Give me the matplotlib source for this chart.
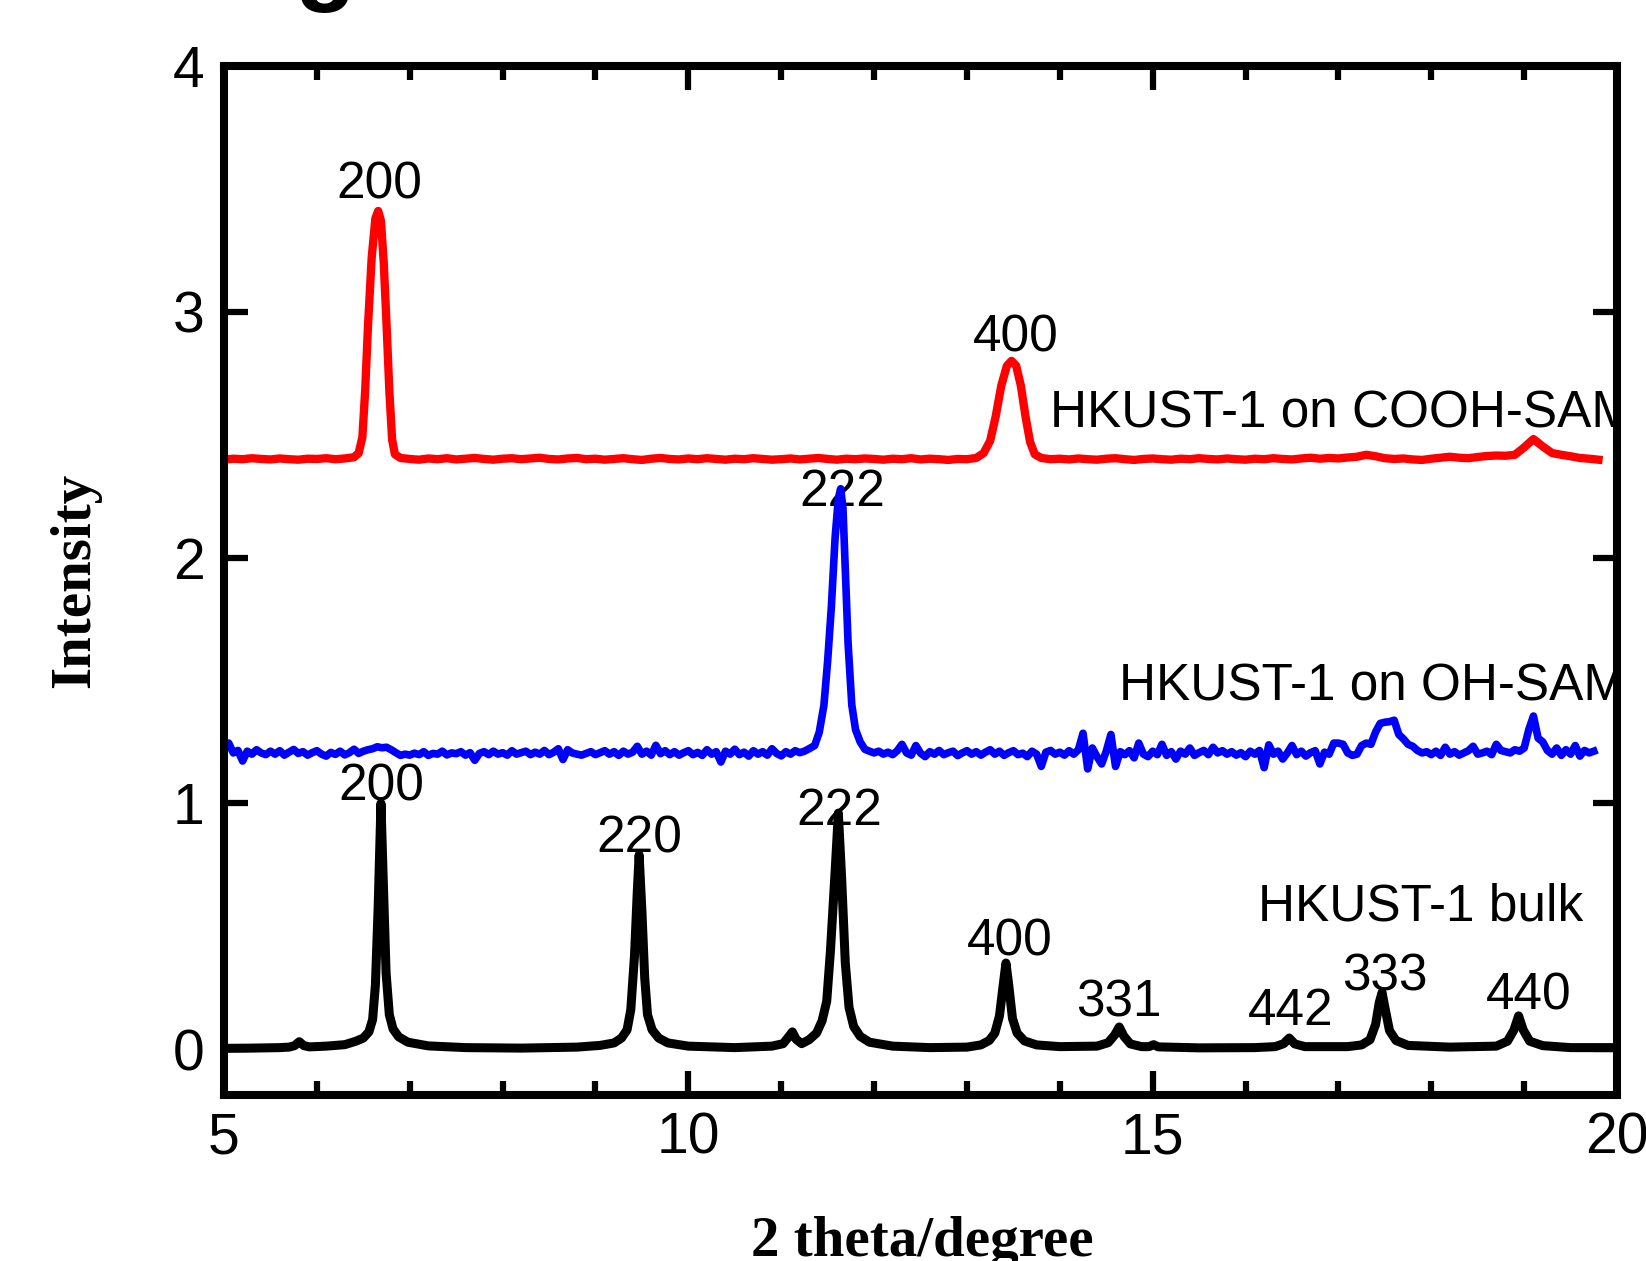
"""XRD patterns of HKUST-1: bulk powder vs. films grown on OH- and COOH-terminated SAMs."""

import numpy as np
import matplotlib
matplotlib.use("Agg")
import matplotlib.pyplot as plt
from matplotlib.ticker import MultipleLocator

plt.rcParams['font.family'] = ['Liberation Sans', 'DejaVu Sans']

# --- HKUST-1 bulk (black) ---
BULK_X = [5.00, 5.30, 5.60, 5.70, 5.76, 5.81, 5.86, 5.92, 6.10, 6.30,
          6.42, 6.50, 6.56, 6.60, 6.63, 6.66, 6.69, 6.72, 6.745, 6.78,
          6.82, 6.88, 6.98, 7.20, 7.60, 8.20, 8.80, 9.05, 9.20, 9.28,
          9.34, 9.38, 9.42, 9.45, 9.47, 9.50, 9.53, 9.56, 9.61, 9.68,
          9.78, 10.00, 10.50, 10.90, 11.02, 11.08, 11.12, 11.16, 11.22, 11.30,
          11.38, 11.44, 11.49, 11.53, 11.58, 11.615, 11.65, 11.69, 11.73, 11.78,
          11.85, 11.95, 12.20, 12.60, 13.00, 13.15, 13.24, 13.30, 13.35, 13.39,
          13.42, 13.45, 13.49, 13.54, 13.62, 13.75, 14.00, 14.40, 14.52, 14.59,
          14.64, 14.69, 14.76, 14.88, 14.96, 15.01, 15.06, 15.50, 16.10, 16.32,
          16.41, 16.47, 16.53, 16.64, 17.10, 17.25, 17.34, 17.40, 17.44, 17.47,
          17.50, 17.55, 17.62, 17.75, 18.20, 18.70, 18.82, 18.89, 18.94, 18.99,
          19.06, 19.20, 19.50, 19.97]
BULK_Y = [0.003, 0.004, 0.006, 0.008, 0.014, 0.030, 0.014, 0.009, 0.012, 0.018,
          0.032, 0.045, 0.070, 0.120, 0.260, 0.580, 1.000, 0.620, 0.310, 0.140,
          0.082, 0.050, 0.028, 0.013, 0.006, 0.004, 0.008, 0.015, 0.025, 0.045,
          0.078, 0.160, 0.380, 0.640, 0.790, 0.560, 0.290, 0.140, 0.078, 0.045,
          0.025, 0.012, 0.006, 0.012, 0.022, 0.050, 0.070, 0.040, 0.022, 0.038,
          0.065, 0.115, 0.195, 0.400, 0.720, 0.960, 0.700, 0.350, 0.170, 0.092,
          0.052, 0.028, 0.012, 0.006, 0.008, 0.017, 0.035, 0.065, 0.135, 0.260,
          0.350, 0.260, 0.125, 0.065, 0.033, 0.017, 0.010, 0.012, 0.026, 0.057,
          0.090, 0.052, 0.021, 0.010, 0.010, 0.018, 0.009, 0.005, 0.006, 0.010,
          0.022, 0.045, 0.021, 0.010, 0.010, 0.017, 0.038, 0.100, 0.190, 0.230,
          0.170, 0.075, 0.035, 0.015, 0.008, 0.012, 0.032, 0.078, 0.135, 0.078,
          0.032, 0.014, 0.006, 0.006]

# --- HKUST-1 on COOH-SAM (red): baseline pieces on a 0.1 deg scan grid + peaks ---
RED_STEP = 0.1
RED_A_START = 5.0
RED_A_Y = [2.398, 2.402, 2.400, 2.404, 2.401, 2.399, 2.403, 2.400, 2.398, 2.402,
           2.401, 2.404, 2.400, 2.403]
RED_200_X = [6.40, 6.45, 6.49, 6.52, 6.55, 6.59, 6.63, 6.66, 6.69, 6.72,
             6.75, 6.78, 6.81, 6.84, 6.90]
RED_200_Y = [2.408, 2.425, 2.49, 2.68, 2.94, 3.22, 3.38, 3.41, 3.37, 3.20,
             2.95, 2.68, 2.48, 2.42, 2.405]
RED_B_START = 7.0
RED_B_Y = [2.401, 2.398, 2.403, 2.400, 2.404, 2.399, 2.402, 2.405, 2.401, 2.398,
           2.402, 2.404, 2.400, 2.403, 2.406, 2.401, 2.399, 2.403, 2.405, 2.400,
           2.402, 2.398, 2.401, 2.404, 2.400, 2.397, 2.402, 2.405, 2.401, 2.399,
           2.403, 2.400, 2.404, 2.401, 2.398, 2.402, 2.400, 2.404, 2.401, 2.398,
           2.400, 2.403, 2.399, 2.402, 2.405, 2.401, 2.398, 2.402, 2.400, 2.403,
           2.401, 2.398, 2.402, 2.400, 2.404, 2.399, 2.402, 2.400, 2.397, 2.401,
           2.400]
RED_400_X = [13.10, 13.18, 13.25, 13.31, 13.37, 13.43, 13.48, 13.53, 13.58, 13.63,
             13.68, 13.73, 13.80]
RED_400_Y = [2.405, 2.425, 2.475, 2.575, 2.70, 2.78, 2.80, 2.78, 2.70, 2.575,
             2.47, 2.42, 2.405]
RED_C_START = 13.9
RED_C_Y = [2.400,
           2.402, 2.399, 2.403, 2.400, 2.398, 2.402, 2.404, 2.400, 2.397, 2.401,
           2.403, 2.400, 2.398, 2.402, 2.400, 2.404, 2.401, 2.399, 2.403, 2.400,
           2.398, 2.402, 2.400, 2.404, 2.401, 2.399, 2.403, 2.406, 2.402, 2.405,
           2.403, 2.407, 2.410, 2.418, 2.412, 2.404, 2.401, 2.403, 2.399, 2.397,
           2.402, 2.406, 2.410, 2.406, 2.404, 2.409, 2.413, 2.415, 2.414, 2.418,
           2.448, 2.482, 2.452, 2.425, 2.418, 2.412, 2.405, 2.402, 2.398]

# --- HKUST-1 on OH-SAM (blue): noisy baseline on a 0.05 deg scan grid + 222 peak ---
BLUE_STEP = 0.05
BLUE_A_START = 5.0
BLUE_A_Y = [1.215, 1.245, 1.205, 1.215, 1.172, 1.212, 1.200, 1.218, 1.205, 1.198,
            1.212, 1.200, 1.214, 1.196, 1.208, 1.219, 1.203, 1.210, 1.196, 1.206,
            1.214, 1.200, 1.192, 1.207, 1.199, 1.212, 1.197, 1.206, 1.220, 1.203,
            1.212, 1.218, 1.222, 1.230, 1.226, 1.228, 1.218, 1.206, 1.195, 1.200,
            1.196, 1.204, 1.198, 1.210, 1.195, 1.203, 1.200, 1.212, 1.197, 1.205,
            1.202, 1.210, 1.196, 1.206, 1.175, 1.203, 1.210, 1.198, 1.212, 1.200,
            1.206, 1.196, 1.214, 1.200, 1.206, 1.212, 1.198, 1.208, 1.200, 1.215,
            1.198, 1.208, 1.222, 1.178, 1.218, 1.205, 1.200, 1.196, 1.203, 1.210,
            1.198, 1.206, 1.214, 1.200, 1.210, 1.195, 1.212, 1.200, 1.208, 1.232,
            1.200, 1.212, 1.196, 1.236, 1.202, 1.214, 1.198, 1.210, 1.196, 1.206,
            1.214, 1.198, 1.207, 1.195, 1.218, 1.200, 1.210, 1.168, 1.212, 1.200,
            1.220, 1.198, 1.208, 1.192, 1.214, 1.200, 1.210, 1.196, 1.222, 1.203,
            1.193, 1.210, 1.200, 1.214, 1.206, 1.212, 1.222]
BLUE_222_X = [11.36, 11.41, 11.46, 11.50, 11.54, 11.58, 11.615, 11.64, 11.665, 11.69,
              11.72, 11.76, 11.80, 11.85, 11.90]
BLUE_222_Y = [1.235, 1.29, 1.40, 1.58, 1.80, 2.08, 2.24, 2.28, 2.20, 1.95,
              1.65, 1.40, 1.30, 1.25, 1.22]
BLUE_B_START = 11.95
BLUE_B_Y = [1.212,
            1.205, 1.212, 1.200, 1.208, 1.198, 1.214, 1.240, 1.205, 1.196, 1.235,
            1.204, 1.190, 1.210, 1.200, 1.215, 1.198, 1.206, 1.212, 1.194, 1.205,
            1.214, 1.200, 1.210, 1.196, 1.208, 1.218, 1.200, 1.212, 1.195, 1.206,
            1.214, 1.198, 1.204, 1.190, 1.212, 1.200, 1.150, 1.208, 1.215, 1.200,
            1.208, 1.196, 1.214, 1.200, 1.218, 1.285, 1.140, 1.225, 1.190, 1.160,
            1.212, 1.280, 1.150, 1.210, 1.198, 1.214, 1.185, 1.245, 1.200, 1.190,
            1.212, 1.198, 1.240, 1.195, 1.210, 1.180, 1.212, 1.200, 1.225, 1.195,
            1.206, 1.215, 1.198, 1.228, 1.205, 1.214, 1.200, 1.210, 1.196, 1.206,
            1.190, 1.212, 1.200, 1.215, 1.145, 1.238, 1.200, 1.212, 1.180, 1.205,
            1.235, 1.198, 1.212, 1.192, 1.206, 1.214, 1.160, 1.208, 1.200, 1.245,
            1.245, 1.240, 1.205, 1.195, 1.200, 1.235, 1.245, 1.240, 1.290, 1.325,
            1.330, 1.332, 1.338, 1.280, 1.262, 1.240, 1.232, 1.215, 1.205, 1.210,
            1.198, 1.212, 1.195, 1.228, 1.200, 1.210, 1.196, 1.205, 1.214, 1.232,
            1.200, 1.205, 1.212, 1.198, 1.240, 1.215, 1.210, 1.205, 1.218, 1.212,
            1.225, 1.300, 1.355, 1.265, 1.250, 1.215, 1.200, 1.225, 1.195, 1.218,
            1.200, 1.235, 1.192, 1.215, 1.205, 1.212]

# Miller-index labels: (text, 2theta, baseline height)
RED_LABELS = [("200", 6.67, 3.46), ("400", 13.52, 2.84)]
BLUE_LABELS = [("222", 11.66, 2.21)]
BULK_LABELS = [("200", 6.69, 1.01), ("220", 9.47, 0.80), ("222", 11.63, 0.91),
               ("400", 13.46, 0.38), ("331", 14.64, 0.134), ("442", 16.49, 0.10),
               ("333", 17.50, 0.24), ("440", 19.05, 0.16)]

# Sample names: (text, left 2theta, baseline height)
SAMPLE_LABELS = [("HKUST-1 on COOH-SAM", 13.89, 2.53),
                 ("HKUST-1 on OH-SAM", 14.64, 1.42),
                 ("HKUST-1 bulk", 16.13, 0.525)]


def grid_segment(start, values, step):
    """x positions of an evenly stepped scan segment."""
    return start + step * np.arange(len(values)), np.asarray(values)


def join(*pieces):
    xs = np.concatenate([np.asarray(p[0], dtype=float) for p in pieces])
    ys = np.concatenate([np.asarray(p[1], dtype=float) for p in pieces])
    return xs, ys


red_x, red_y = join(grid_segment(RED_A_START, RED_A_Y, RED_STEP),
                    (RED_200_X, RED_200_Y),
                    grid_segment(RED_B_START, RED_B_Y, RED_STEP),
                    (RED_400_X, RED_400_Y),
                    grid_segment(RED_C_START, RED_C_Y, RED_STEP))
blue_x, blue_y = join(grid_segment(BLUE_A_START, BLUE_A_Y, BLUE_STEP),
                      (BLUE_222_X, BLUE_222_Y),
                      grid_segment(BLUE_B_START, BLUE_B_Y, BLUE_STEP))

fig = plt.figure(figsize=(16.46, 12.61), dpi=100)
ax = fig.add_axes([0.1361, 0.1316, 0.8463, 0.8161])

ax.plot(BULK_X, BULK_Y, color='black', lw=6.5, solid_joinstyle='round', zorder=3)
ax.plot(blue_x, blue_y, color='#0000ff', lw=5.5, solid_joinstyle='round', zorder=3)
ax.plot(red_x, red_y, color='#ff0000', lw=6.0, solid_joinstyle='round', zorder=3)

for labels in (RED_LABELS, BLUE_LABELS, BULK_LABELS):
    for text, x, y in labels:
        ax.text(x, y, text, fontsize=37, ha='center', va='baseline', zorder=2)

for text, x, y in SAMPLE_LABELS:
    ax.text(x, y, text, fontsize=37, ha='left', va='baseline', clip_on=True, zorder=2)

ax.set_xlim(5, 20)
ax.set_ylim(-0.187, 4.0)
ax.set_xticks([5, 10, 15, 20])
ax.xaxis.set_minor_locator(MultipleLocator(1))
ax.set_yticks([0, 1, 2, 3, 4])

ax.tick_params(which='both', direction='in', top=True, right=True, width=4.5,
               labelsize=41, color='black')
ax.tick_params(which='major', length=17)
ax.tick_params(which='minor', length=10)
ax.tick_params(axis='x', pad=12)
ax.tick_params(axis='y', pad=14)

for spine in ax.spines.values():
    spine.set_linewidth(5.8)
    spine.set_zorder(5)

label_font = dict(family=['Liberation Serif', 'DejaVu Serif'], weight='bold', size=41)
ax.set_xlabel("2 theta/degree", va='top', **label_font)
ax.xaxis.set_label_coords(0.501, -0.118)
ax.set_ylabel("Intensity", va='center', **label_font)
ax.yaxis.set_label_coords(-0.107, 0.5)

# panel letter, mostly cut off by the top edge as in the original figure
fig.text(0.179, 1.006, "g", fontsize=72, fontweight='bold', ha='left', va='baseline')

fig.savefig("out.png", dpi=100)
